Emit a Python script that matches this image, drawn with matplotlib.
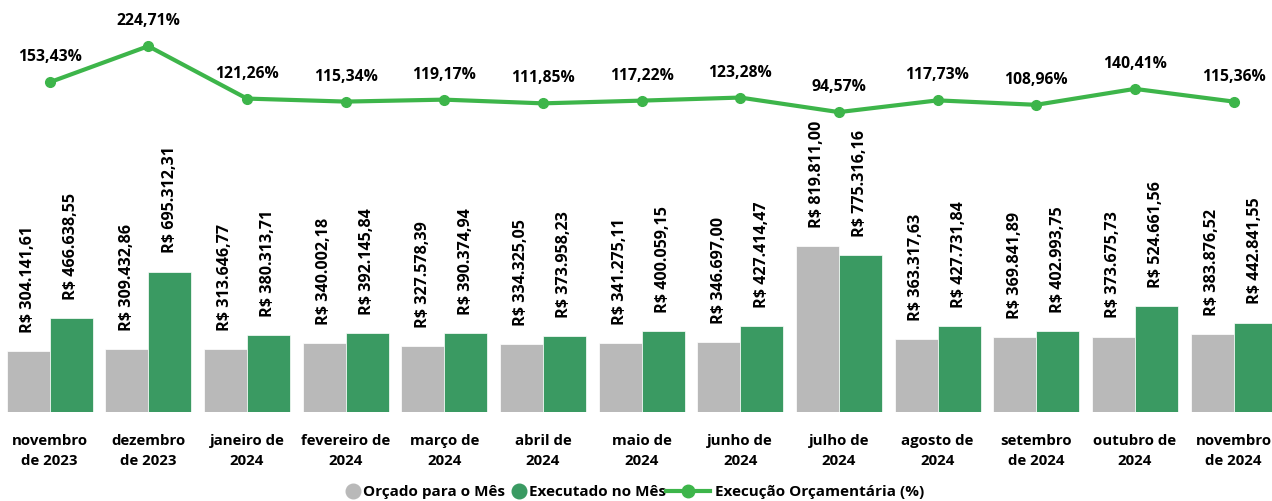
import matplotlib
matplotlib.use("Agg")
import matplotlib.pyplot as plt
from matplotlib.lines import Line2D
import numpy as np

plt.rcParams['font.family'] = ['Open Sans', 'DejaVu Sans']

months = ["novembro\nde 2023", "dezembro\nde 2023", "janeiro de\n2024", "fevereiro de\n2024",
          "março de\n2024", "abril de\n2024", "maio de\n2024", "junho de\n2024",
          "julho de\n2024", "agosto de\n2024", "setembro\nde 2024", "outubro de\n2024",
          "novembro\nde 2024"]
orcado = [304141.61, 309432.86, 313646.77, 340002.18, 327578.39, 334325.05, 341275.11,
          346697.00, 819811.00, 363317.63, 369841.89, 373675.73, 383876.52]
executado = [466638.55, 695312.31, 380313.71, 392145.84, 390374.94, 373958.23, 400059.15,
             427414.47, 775316.16, 427731.84, 402993.75, 524661.56, 442841.55]
execucao_pct = [153.43, 224.71, 121.26, 115.34, 119.17, 111.85, 117.22, 123.28, 94.57,
                117.73, 108.96, 140.41, 115.36]

GRAY = '#b9b9b9'
DARK_GREEN = '#3a9a62'
LINE_GREEN = '#3db54a'


def brl(v):
    s = f"{v:,.2f}".replace(",", "X").replace(".", ",").replace("X", ".")
    return "R$ " + s


def pct_fmt(v):
    return f"{v:.2f}%".replace(".", ",")


fig = plt.figure(figsize=(12.72, 5.01), dpi=100)
ax = fig.add_axes([0.001, 89 / 501, 0.999, 402 / 501])

x = np.arange(len(months))
w = 0.436
b1 = ax.bar(x - w / 2, orcado, w, color=GRAY, edgecolor='white', linewidth=0.5)
b2 = ax.bar(x + w / 2, executado, w, color=DARK_GREEN, edgecolor='white', linewidth=0.5)

for bars, vals in ((b1, orcado), (b2, executado)):
    for rect, v in zip(bars, vals):
        ax.annotate(brl(v), (rect.get_x() + rect.get_width() / 2, v),
                    xytext=(0, 13), textcoords='offset points', rotation=90,
                    ha='center', va='bottom', fontsize=11.6, fontweight='bold')

ax.set_ylim(0, 1.99e6)
ax.set_xlim(-0.49, 12.39)
ax.set_xticks(x)
ax.set_xticklabels(months, fontsize=10.8, fontweight='bold', linespacing=1.5)
ax.tick_params(axis='x', length=0, pad=16)
ax.set_yticks([])
for s in ax.spines.values():
    s.set_visible(False)

ax2 = ax.twinx()
ax2.plot(x, execucao_pct, color=LINE_GREEN, lw=3, marker='o', ms=7, zorder=3)
for xi, v in zip(x, execucao_pct):
    ax2.annotate(pct_fmt(v), (xi, v), xytext=(0, 18), textcoords='offset points',
                 ha='center', va='center', fontsize=11.3, fontweight='bold')
ax2.set_ylim(-497, 296)
ax2.set_yticks([])
for s in ax2.spines.values():
    s.set_visible(False)

# legend split in two so the circle handles stay short and the line handle long
leg_y = 1 - 492 / 501
split_x = 666 / 1272
h_bars = [Line2D([], [], ls='none', marker='o', ms=10.5, color=GRAY),
          Line2D([], [], ls='none', marker='o', ms=10.5, color=DARK_GREEN)]
fig.legend(h_bars, ["Orçado para o Mês", "Executado no Mês"], loc='center right',
           bbox_to_anchor=(split_x, leg_y), ncol=2, frameon=False,
           prop={'weight': 'bold', 'size': 11},
           handlelength=0.75, handletextpad=0.25, columnspacing=0.6,
           borderpad=0, borderaxespad=0)
h_line = [Line2D([], [], color=LINE_GREEN, lw=3, marker='o', ms=9)]
fig.legend(h_line, ["Execução Orçamentária (%)"], loc='center left',
           bbox_to_anchor=(split_x, leg_y), frameon=False,
           prop={'weight': 'bold', 'size': 11},
           handlelength=2.9, handletextpad=0.3, borderpad=0, borderaxespad=0)

fig.savefig("out.png", dpi=100)
